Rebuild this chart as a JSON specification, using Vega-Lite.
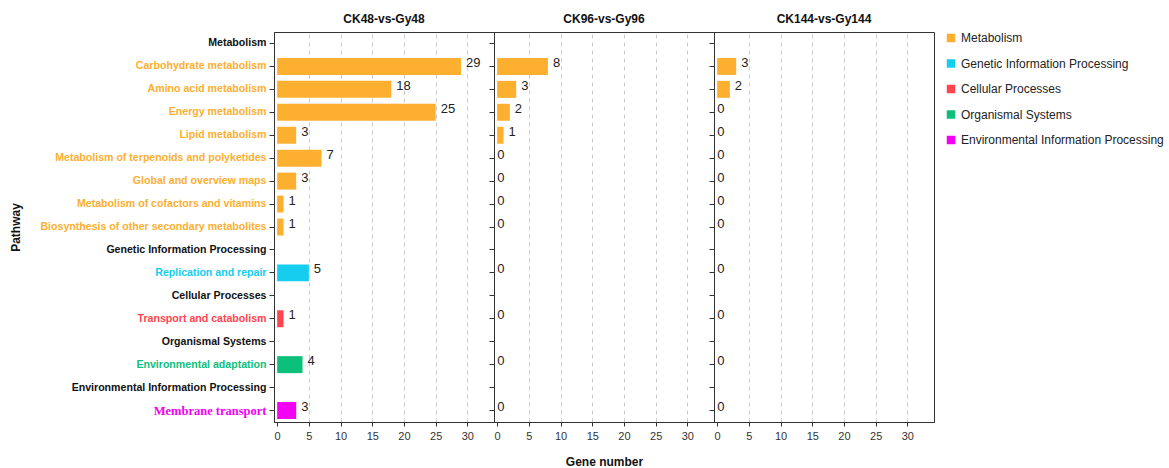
{
  "$schema": "https://vega.github.io/schema/vega-lite/v6.json",
  "padding": {"left": 8, "top": 12, "right": 5, "bottom": 5},
  "bounds": "flush",
  "spacing": 0,
  "config": {
    "font": "Liberation Sans",
    "view": {"stroke": "#333", "strokeWidth": 1},
    "axis": {
      "domainColor": "#333",
      "tickColor": "#333",
      "labelColor": "#222",
      "titleColor": "#111",
      "titleFontWeight": "bold",
      "titleFontSize": 12
    },
    "legend": {
      "labelFont": "Liberation Sans",
      "labelFontSize": 12,
      "labelColor": "#222",
      "labelLimit": 400,
      "symbolType": "square",
      "symbolSize": 72,
      "symbolStrokeWidth": 0,
      "rowPadding": 13.5,
      "offset": 10,
      "title": null
    }
  },
  "datasets": {
    "kegg": [
      {"comparison": "CK48-vs-Gy48", "pathway": "Carbohydrate metabolism", "category": "Metabolism", "genes": 29},
      {"comparison": "CK48-vs-Gy48", "pathway": "Amino acid metabolism", "category": "Metabolism", "genes": 18},
      {"comparison": "CK48-vs-Gy48", "pathway": "Energy metabolism", "category": "Metabolism", "genes": 25},
      {"comparison": "CK48-vs-Gy48", "pathway": "Lipid metabolism", "category": "Metabolism", "genes": 3},
      {"comparison": "CK48-vs-Gy48", "pathway": "Metabolism of terpenoids and polyketides", "category": "Metabolism", "genes": 7},
      {"comparison": "CK48-vs-Gy48", "pathway": "Global and overview maps", "category": "Metabolism", "genes": 3},
      {"comparison": "CK48-vs-Gy48", "pathway": "Metabolism of cofactors and vitamins", "category": "Metabolism", "genes": 1},
      {"comparison": "CK48-vs-Gy48", "pathway": "Biosynthesis of other secondary metabolites", "category": "Metabolism", "genes": 1},
      {"comparison": "CK48-vs-Gy48", "pathway": "Replication and repair", "category": "Genetic Information Processing", "genes": 5},
      {"comparison": "CK48-vs-Gy48", "pathway": "Transport and catabolism", "category": "Cellular Processes", "genes": 1},
      {"comparison": "CK48-vs-Gy48", "pathway": "Environmental adaptation", "category": "Organismal Systems", "genes": 4},
      {"comparison": "CK48-vs-Gy48", "pathway": "Membrane transport", "category": "Environmental Information Processing", "genes": 3},

      {"comparison": "CK96-vs-Gy96", "pathway": "Carbohydrate metabolism", "category": "Metabolism", "genes": 8},
      {"comparison": "CK96-vs-Gy96", "pathway": "Amino acid metabolism", "category": "Metabolism", "genes": 3},
      {"comparison": "CK96-vs-Gy96", "pathway": "Energy metabolism", "category": "Metabolism", "genes": 2},
      {"comparison": "CK96-vs-Gy96", "pathway": "Lipid metabolism", "category": "Metabolism", "genes": 1},
      {"comparison": "CK96-vs-Gy96", "pathway": "Metabolism of terpenoids and polyketides", "category": "Metabolism", "genes": 0},
      {"comparison": "CK96-vs-Gy96", "pathway": "Global and overview maps", "category": "Metabolism", "genes": 0},
      {"comparison": "CK96-vs-Gy96", "pathway": "Metabolism of cofactors and vitamins", "category": "Metabolism", "genes": 0},
      {"comparison": "CK96-vs-Gy96", "pathway": "Biosynthesis of other secondary metabolites", "category": "Metabolism", "genes": 0},
      {"comparison": "CK96-vs-Gy96", "pathway": "Replication and repair", "category": "Genetic Information Processing", "genes": 0},
      {"comparison": "CK96-vs-Gy96", "pathway": "Transport and catabolism", "category": "Cellular Processes", "genes": 0},
      {"comparison": "CK96-vs-Gy96", "pathway": "Environmental adaptation", "category": "Organismal Systems", "genes": 0},
      {"comparison": "CK96-vs-Gy96", "pathway": "Membrane transport", "category": "Environmental Information Processing", "genes": 0},

      {"comparison": "CK144-vs-Gy144", "pathway": "Carbohydrate metabolism", "category": "Metabolism", "genes": 3},
      {"comparison": "CK144-vs-Gy144", "pathway": "Amino acid metabolism", "category": "Metabolism", "genes": 2},
      {"comparison": "CK144-vs-Gy144", "pathway": "Energy metabolism", "category": "Metabolism", "genes": 0},
      {"comparison": "CK144-vs-Gy144", "pathway": "Lipid metabolism", "category": "Metabolism", "genes": 0},
      {"comparison": "CK144-vs-Gy144", "pathway": "Metabolism of terpenoids and polyketides", "category": "Metabolism", "genes": 0},
      {"comparison": "CK144-vs-Gy144", "pathway": "Global and overview maps", "category": "Metabolism", "genes": 0},
      {"comparison": "CK144-vs-Gy144", "pathway": "Metabolism of cofactors and vitamins", "category": "Metabolism", "genes": 0},
      {"comparison": "CK144-vs-Gy144", "pathway": "Biosynthesis of other secondary metabolites", "category": "Metabolism", "genes": 0},
      {"comparison": "CK144-vs-Gy144", "pathway": "Replication and repair", "category": "Genetic Information Processing", "genes": 0},
      {"comparison": "CK144-vs-Gy144", "pathway": "Transport and catabolism", "category": "Cellular Processes", "genes": 0},
      {"comparison": "CK144-vs-Gy144", "pathway": "Environmental adaptation", "category": "Organismal Systems", "genes": 0},
      {"comparison": "CK144-vs-Gy144", "pathway": "Membrane transport", "category": "Environmental Information Processing", "genes": 0}
    ]
  },
  "hconcat": [
    {
      "title": {"text": "CK48-vs-Gy48", "fontSize": 12, "fontWeight": "bold", "color": "#111", "anchor": "middle", "offset": 6},
      "width": 220,
      "height": 390,
      "data": {"name": "kegg"},
      "transform": [{"filter": "datum.comparison === 'CK48-vs-Gy48'"}],
      "encoding": {
        "y": {
          "field": "pathway",
          "type": "nominal",
          "scale": {
            "domain": ["Metabolism", "Carbohydrate metabolism", "Amino acid metabolism", "Energy metabolism", "Lipid metabolism", "Metabolism of terpenoids and polyketides", "Global and overview maps", "Metabolism of cofactors and vitamins", "Biosynthesis of other secondary metabolites", "Genetic Information Processing", "Replication and repair", "Cellular Processes", "Transport and catabolism", "Organismal Systems", "Environmental adaptation", "Environmental Information Processing", "Membrane transport"],
            "paddingInner": 0.26,
            "paddingOuter": 0.13
          },
          "axis": {
            "title": "Pathway",
            "titlePadding": 52,
            "tickSize": 5,
            "labelPadding": 3,
            "labelLimit": 400,
            "labelFontWeight": "bold",
            "labelFont": {"expr": "datum.value === 'Membrane transport' ? 'Liberation Serif' : 'Liberation Sans'"},
            "labelFontSize": {"expr": "datum.value === 'Membrane transport' ? 12.5 : 10.6"},
            "labelColor": {"expr": "indexof(['Metabolism','Genetic Information Processing','Cellular Processes','Organismal Systems','Environmental Information Processing'], datum.value) >= 0 ? '#111111' : datum.value === 'Replication and repair' ? '#14CDEF' : datum.value === 'Transport and catabolism' ? '#FF4550' : datum.value === 'Environmental adaptation' ? '#0CC07C' : datum.value === 'Membrane transport' ? '#F400F4' : '#FDAF30'"}
          }
        },
        "x": {
          "field": "genes",
          "type": "quantitative",
          "scale": {"domain": [-0.5, 34.2], "nice": false, "zero": false},
          "axis": {
            "title": null,
            "values": [0, 5, 10, 15, 20, 25, 30],
            "tickSize": 4,
            "labelPadding": 4,
            "labelFontSize": 11,
            "labelColor": "#333",
            "grid": true,
            "gridDash": [4, 4],
            "gridColor": "#c8c8c8",
            "gridOpacity": {"condition": {"test": "datum.value === 0", "value": 0}, "value": 1}
          }
        }
      },
      "layer": [
        {
          "mark": {"type": "bar"},
          "encoding": {
            "color": {
              "field": "category",
              "type": "nominal",
              "scale": {
                "domain": ["Metabolism", "Genetic Information Processing", "Cellular Processes", "Organismal Systems", "Environmental Information Processing"],
                "range": ["#FDAF30", "#14CDEF", "#FF4550", "#0CC07C", "#F400F4"]
              }
            }
          }
        },
        {
          "transform": [{"filter": "datum.genes > 0"}],
          "mark": {"type": "text", "align": "left", "dx": 5, "dy": -3.5, "fontSize": 13, "color": "#222"},
          "encoding": {"text": {"field": "genes", "type": "quantitative"}}
        },
        {
          "transform": [{"filter": "datum.genes === 0"}],
          "mark": {"type": "text", "align": "left", "dx": 0, "dy": -3.5, "fontSize": 13, "color": "#222"},
          "encoding": {"text": {"field": "genes", "type": "quantitative"}}
        }
      ]
    },
    {
      "title": {"text": "CK96-vs-Gy96", "fontSize": 12, "fontWeight": "bold", "color": "#111", "anchor": "middle", "offset": 6},
      "width": 220,
      "height": 390,
      "data": {"name": "kegg"},
      "transform": [{"filter": "datum.comparison === 'CK96-vs-Gy96'"}],
      "encoding": {
        "y": {
          "field": "pathway",
          "type": "nominal",
          "scale": {
            "domain": ["Metabolism", "Carbohydrate metabolism", "Amino acid metabolism", "Energy metabolism", "Lipid metabolism", "Metabolism of terpenoids and polyketides", "Global and overview maps", "Metabolism of cofactors and vitamins", "Biosynthesis of other secondary metabolites", "Genetic Information Processing", "Replication and repair", "Cellular Processes", "Transport and catabolism", "Organismal Systems", "Environmental adaptation", "Environmental Information Processing", "Membrane transport"],
            "paddingInner": 0.26,
            "paddingOuter": 0.13
          },
          "axis": {"title": null, "labels": false, "tickSize": 5}
        },
        "x": {
          "field": "genes",
          "type": "quantitative",
          "scale": {"domain": [-0.5, 34.2], "nice": false, "zero": false},
          "axis": {
            "title": "Gene number",
            "titlePadding": 15,
            "values": [0, 5, 10, 15, 20, 25, 30],
            "tickSize": 4,
            "labelPadding": 4,
            "labelFontSize": 11,
            "labelColor": "#333",
            "grid": true,
            "gridDash": [4, 4],
            "gridColor": "#c8c8c8",
            "gridOpacity": {"condition": {"test": "datum.value === 0", "value": 0}, "value": 1}
          }
        }
      },
      "layer": [
        {
          "mark": {"type": "bar"},
          "encoding": {
            "color": {
              "field": "category",
              "type": "nominal",
              "scale": {
                "domain": ["Metabolism", "Genetic Information Processing", "Cellular Processes", "Organismal Systems", "Environmental Information Processing"],
                "range": ["#FDAF30", "#14CDEF", "#FF4550", "#0CC07C", "#F400F4"]
              }
            }
          }
        },
        {
          "transform": [{"filter": "datum.genes > 0"}],
          "mark": {"type": "text", "align": "left", "dx": 5, "dy": -3.5, "fontSize": 13, "color": "#222"},
          "encoding": {"text": {"field": "genes", "type": "quantitative"}}
        },
        {
          "transform": [{"filter": "datum.genes === 0"}],
          "mark": {"type": "text", "align": "left", "dx": 0, "dy": -3.5, "fontSize": 13, "color": "#222"},
          "encoding": {"text": {"field": "genes", "type": "quantitative"}}
        }
      ]
    },
    {
      "title": {"text": "CK144-vs-Gy144", "fontSize": 12, "fontWeight": "bold", "color": "#111", "anchor": "middle", "offset": 6},
      "width": 220,
      "height": 390,
      "data": {"name": "kegg"},
      "transform": [{"filter": "datum.comparison === 'CK144-vs-Gy144'"}],
      "encoding": {
        "y": {
          "field": "pathway",
          "type": "nominal",
          "scale": {
            "domain": ["Metabolism", "Carbohydrate metabolism", "Amino acid metabolism", "Energy metabolism", "Lipid metabolism", "Metabolism of terpenoids and polyketides", "Global and overview maps", "Metabolism of cofactors and vitamins", "Biosynthesis of other secondary metabolites", "Genetic Information Processing", "Replication and repair", "Cellular Processes", "Transport and catabolism", "Organismal Systems", "Environmental adaptation", "Environmental Information Processing", "Membrane transport"],
            "paddingInner": 0.26,
            "paddingOuter": 0.13
          },
          "axis": {"title": null, "labels": false, "tickSize": 5}
        },
        "x": {
          "field": "genes",
          "type": "quantitative",
          "scale": {"domain": [-0.5, 34.2], "nice": false, "zero": false},
          "axis": {
            "title": null,
            "values": [0, 5, 10, 15, 20, 25, 30],
            "tickSize": 4,
            "labelPadding": 4,
            "labelFontSize": 11,
            "labelColor": "#333",
            "grid": true,
            "gridDash": [4, 4],
            "gridColor": "#c8c8c8",
            "gridOpacity": {"condition": {"test": "datum.value === 0", "value": 0}, "value": 1}
          }
        }
      },
      "layer": [
        {
          "mark": {"type": "bar"},
          "encoding": {
            "color": {
              "field": "category",
              "type": "nominal",
              "scale": {
                "domain": ["Metabolism", "Genetic Information Processing", "Cellular Processes", "Organismal Systems", "Environmental Information Processing"],
                "range": ["#FDAF30", "#14CDEF", "#FF4550", "#0CC07C", "#F400F4"]
              }
            }
          }
        },
        {
          "transform": [{"filter": "datum.genes > 0"}],
          "mark": {"type": "text", "align": "left", "dx": 5, "dy": -3.5, "fontSize": 13, "color": "#222"},
          "encoding": {"text": {"field": "genes", "type": "quantitative"}}
        },
        {
          "transform": [{"filter": "datum.genes === 0"}],
          "mark": {"type": "text", "align": "left", "dx": 0, "dy": -3.5, "fontSize": 13, "color": "#222"},
          "encoding": {"text": {"field": "genes", "type": "quantitative"}}
        }
      ]
    }
  ]
}
